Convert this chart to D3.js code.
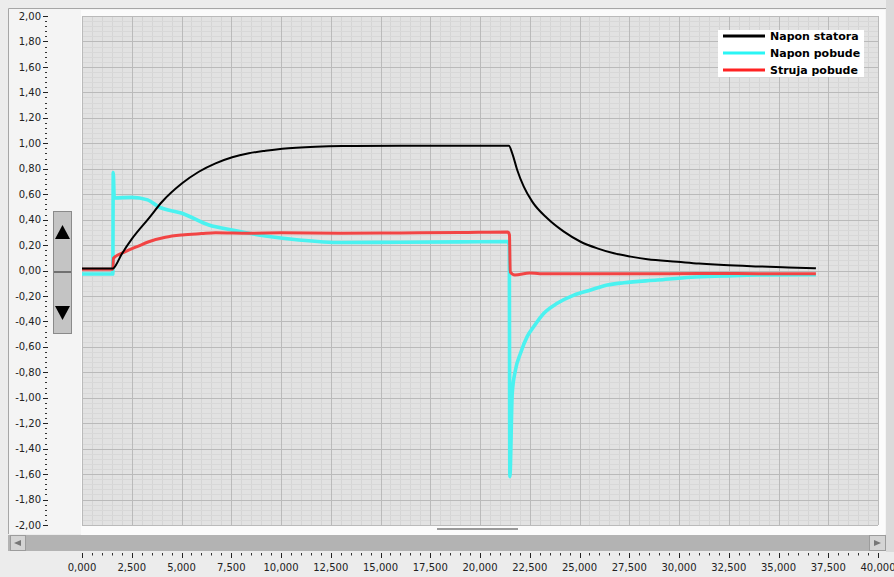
<!DOCTYPE html>
<html>
<head>
<meta charset="utf-8">
<script src="https://cdn.jsdelivr.net/npm/d3@7"></script>
<style>
  body { margin: 0; background: #ececec; }
  svg { display: block; font-family: "DejaVu Sans", sans-serif; }
</style>
</head>
<body>
<div id="chart"></div>
<script>
// Data (time in s, value in p.u.)
const statorTime  = [0, 1.56, 1.6, 2.0, 2.515, 3.355, 4.025, 5.03, 5.87, 6.71, 7.55, 8.385, 9.22, 10.06, 11.74, 13.08, 16.0, 21.45,
                     21.62, 21.87, 22.2, 22.625, 23.38, 24.215, 25.055, 25.895, 26.73, 27.57, 28.41, 29.92, 31.0, 32.25, 34.0, 35.5, 36.88];
const statorValue = [0.015, 0.015, 0.02, 0.13, 0.25, 0.41, 0.54, 0.685, 0.776, 0.842, 0.89, 0.921, 0.941, 0.957, 0.973, 0.978, 0.98, 0.98,
                     0.921, 0.79, 0.659, 0.541, 0.41, 0.305, 0.226, 0.174, 0.135, 0.109, 0.088, 0.069, 0.055, 0.043, 0.032, 0.024, 0.017];

const pobudaTime  = [0, 1.55, 1.57, 1.62, 2.5, 3.3, 3.86, 5.03, 6.375, 7.55, 9.22, 10.9, 13.08, 16.0, 19.0, 21.4, 21.47, 21.5,
                     21.62, 21.785, 22.035, 22.37, 22.705, 23.21, 23.88, 24.72, 25.56, 26.4, 27.23, 28.91, 30.59, 32.26, 33.94, 36.88];
const pobudaValue = [-0.028, -0.028, 0.77, 0.57, 0.575, 0.555, 0.50, 0.45, 0.357, 0.318, 0.271, 0.24, 0.22, 0.222, 0.225, 0.228, 0.2, -1.62,
                     -0.965, -0.78, -0.65, -0.52, -0.44, -0.336, -0.258, -0.193, -0.153, -0.114, -0.096, -0.075, -0.053, -0.043, -0.035, -0.033];

const strujaTime  = [0, 1.55, 1.58, 2.18, 2.8, 3.355, 4.19, 5.03, 6.0, 6.71, 8.4, 10.0, 13.0, 16.0, 19.0, 21.4, 21.48, 21.52,
                     21.75, 22.5, 23.0, 25.0, 28.0, 31.0, 34.0, 36.88];
const strujaValue = [0.01, 0.01, 0.096, 0.148, 0.19, 0.226, 0.261, 0.279, 0.29, 0.297, 0.293, 0.296, 0.292, 0.295, 0.298, 0.302, 0.28, -0.01,
                     -0.035, -0.02, -0.025, -0.026, -0.026, -0.024, -0.025, -0.026];

const seriesNames  = ["Napon statora", "Napon pobude", "Struja pobude"];
const seriesColors = ["#000000", "#4af2f0", "#f24444"];
const legendColors = ["#000000", "#2af5f5", "#ff2222"];

const xTicks = d3.range(0, 40.001, 2.5);
const yTicks = d3.range(-2, 2.001, 0.2);

const width = 894, height = 577;
const plot = {left: 82, right: 878, top: 16, bottom: 525};

const locale = d3.formatLocale({decimal: ",", thousands: ".", grouping: [3], currency: ["", ""], minus: "-"});
const fx = locale.format(".3f"), fy = locale.format(".2f");

const svg = d3.select("#chart").append("svg")
    .attr("width", width).attr("height", height);

// Frame / panels
svg.append("rect").attr("x", 8).attr("y", 8).attr("width", 878).attr("height", 526).attr("fill", "#f4f4f4");
svg.append("path").attr("d", "M8.5,534V8.5H886").attr("fill", "none").attr("stroke", "#a6a6a6");
svg.append("rect").attr("x", 886).attr("y", 0).attr("width", 8).attr("height", 552).attr("fill", "#dadada");
svg.append("rect").attr("x", plot.left - 1).attr("y", plot.top - 6).attr("width", plot.right - plot.left + 8)
    .attr("height", plot.bottom - plot.top + 16).attr("fill", "#fbfbfb");

const x = d3.scaleLinear().domain([0, 40]).range([plot.left, plot.right]);
const y = d3.scaleLinear().domain([-2, 2]).range([plot.bottom, plot.top]);

svg.append("rect").attr("x", plot.left).attr("y", plot.top)
    .attr("width", plot.right - plot.left).attr("height", plot.bottom - plot.top).attr("fill", "#e2e2e2");

// Grid
const grid = svg.append("g");
const xMinor = d3.range(0, 40.001, 0.5), yMinor = d3.range(-2, 2.001, 0.04);
grid.selectAll(".vm").data(xMinor).join("line")
    .attr("x1", d => Math.round(x(d)) + 0.5).attr("x2", d => Math.round(x(d)) + 0.5)
    .attr("y1", plot.top).attr("y2", plot.bottom).attr("stroke", "#d5d5d5");
grid.selectAll(".hm").data(yMinor).join("line")
    .attr("y1", d => Math.round(y(d)) + 0.5).attr("y2", d => Math.round(y(d)) + 0.5)
    .attr("x1", plot.left).attr("x2", plot.right).attr("stroke", "#d8d8d8");
grid.selectAll(".vM").data(xTicks).join("line")
    .attr("x1", d => Math.round(x(d)) + 0.5).attr("x2", d => Math.round(x(d)) + 0.5)
    .attr("y1", plot.top).attr("y2", plot.bottom).attr("stroke", "#bababa");
grid.selectAll(".hM").data(yTicks).join("line")
    .attr("y1", d => Math.round(y(d)) + 0.5).attr("y2", d => Math.round(y(d)) + 0.5)
    .attr("x1", plot.left).attr("x2", plot.right).attr("stroke", "#bababa");

// Lines
svg.append("clipPath").attr("id", "clip").append("rect")
    .attr("x", plot.left).attr("y", plot.top).attr("width", plot.right - plot.left).attr("height", plot.bottom - plot.top);

const line = d3.line().x(d => x(d[0])).y(d => y(d[1])).curve(d3.curveMonotoneX);
const series = [
  {t: pobudaTime, v: pobudaValue, c: seriesColors[1], w: 3.6},
  {t: strujaTime, v: strujaValue, c: seriesColors[2], w: 3},
  {t: statorTime, v: statorValue, c: seriesColors[0], w: 2}
];
const lines = svg.append("g").attr("clip-path", "url(#clip)");
series.forEach(s => {
  lines.append("path").datum(d3.zip(s.t, s.v))
      .attr("fill", "none").attr("stroke", s.c).attr("stroke-width", s.w)
      .attr("stroke-linejoin", "round").attr("d", line);
});

// Y axis
const yAxis = svg.append("g");
yAxis.selectAll(".mt").data(yMinor).join("line")
    .attr("x1", 45).attr("x2", 47).attr("y1", d => Math.round(y(d)) + 0.5).attr("y2", d => Math.round(y(d)) + 0.5)
    .attr("stroke", "#333");
yAxis.selectAll(".Mt").data(yTicks).join("line")
    .attr("x1", 43).attr("x2", 48).attr("y1", d => Math.round(y(d)) + 0.5).attr("y2", d => Math.round(y(d)) + 0.5)
    .attr("stroke", "#222");
yAxis.selectAll("text").data(yTicks).join("text")
    .attr("x", 41).attr("y", d => y(d)).attr("dy", "0.36em").attr("text-anchor", "end")
    .attr("font-size", 10).attr("fill", "#222").text(d => fy(Math.abs(d) < 1e-9 ? 0 : d));

// Slider widget on the left
const sl = svg.append("g");
sl.append("rect").attr("x", 53.5).attr("y", 211.5).attr("width", 18).attr("height", 122)
    .attr("fill", "#c4c4c4").attr("stroke", "#8a8a8a");
sl.append("line").attr("x1", 54).attr("x2", 71).attr("y1", 272).attr("y2", 272).attr("stroke", "#555").attr("stroke-width", 1.5);
sl.append("path").attr("d", "M62.5,225L70,239H55Z").attr("fill", "#000");
sl.append("path").attr("d", "M62.5,320L70,306H55Z").attr("fill", "#000");

// Bottom strip, scrollbar
svg.append("line").attr("x1", 437).attr("x2", 518).attr("y1", 529).attr("y2", 529).attr("stroke", "#9a9a9a").attr("stroke-width", 2);
svg.append("rect").attr("x", 8).attr("y", 535).attr("width", 878).attr("height", 16).attr("fill", "#b3b3b3");
svg.append("rect").attr("x", 10.5).attr("y", 535.5).attr("width", 15).attr("height", 15)
    .attr("fill", "#d4d4d4").attr("stroke", "#9c9c9c");
svg.append("path").attr("d", "M14,543L21,540V546Z").attr("fill", "#777");
svg.append("rect").attr("x", 869.5).attr("y", 535.5).attr("width", 16).attr("height", 15)
    .attr("fill", "#d4d4d4").attr("stroke", "#9c9c9c");
svg.append("path").attr("d", "M881,543L874,540V546Z").attr("fill", "#777");

// X axis
const xAxis = svg.append("g");
xAxis.selectAll(".mt").data(xMinor).join("line")
    .attr("x1", d => Math.round(x(d)) + 0.5).attr("x2", d => Math.round(x(d)) + 0.5)
    .attr("y1", 553).attr("y2", 555.5).attr("stroke", "#333");
xAxis.selectAll(".Mt").data(xTicks).join("line")
    .attr("x1", d => Math.round(x(d)) + 0.5).attr("x2", d => Math.round(x(d)) + 0.5)
    .attr("y1", 553).attr("y2", 558).attr("stroke", "#222");
xAxis.selectAll("text").data(xTicks).join("text")
    .attr("x", d => x(d)).attr("y", 571).attr("text-anchor", "middle")
    .attr("font-size", 10).attr("fill", "#222").text(d => fx(d));

// Legend
const lg = svg.append("g");
lg.append("rect").attr("x", 718).attr("y", 30).attr("width", 146).attr("height", 47).attr("fill", "#fff");
seriesNames.forEach((name, i) => {
  const ly = 36 + i * 17;
  lg.append("line").attr("x1", 723).attr("x2", 765).attr("y1", ly).attr("y2", ly)
      .attr("stroke", legendColors[i]).attr("stroke-width", 3);
  lg.append("text").attr("x", 770).attr("y", ly).attr("dy", "0.36em")
      .attr("font-size", 11).attr("font-weight", "bold").attr("fill", "#000").text(name);
});
</script>
</body>
</html>
